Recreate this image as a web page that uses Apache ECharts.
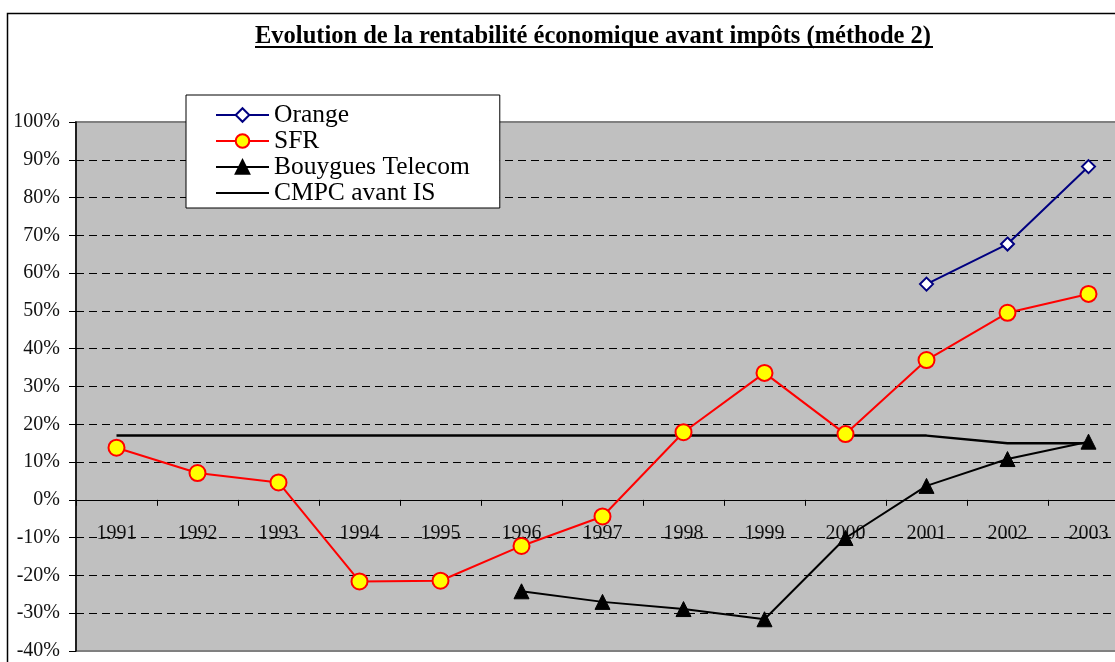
<!DOCTYPE html>
<html><head><meta charset="utf-8">
<script src="https://cdn.jsdelivr.net/npm/echarts@6/dist/echarts.min.js"></script>
<style>html,body{margin:0;padding:0;background:#fff}#c{width:1115px;height:662px}</style>
</head><body><div id="c"></div>
<script>
const categories = ['1991','1992','1993','1994','1995','1996','1997','1998','1999','2000','2001','2002','2003'];
const orange   = [null,null,null,null,null,null,null,null,null,null,57.1,67.7,88.2];
const sfr      = [13.8,7.1,4.6,-21.6,-21.4,-12.2,-4.4,17.9,33.6,17.4,37.0,49.5,54.5];
const bouygues = [null,null,null,null,null,-24.2,-27.0,-28.9,-31.6,-10.1,3.7,10.8,15.4];
const cmpc     = [17,17,17,17,17,17,17,17,17,17,17,15,15];
const yTicks = {min:-40, max:100, interval:10};

const FONT = "'Liberation Serif','DejaVu Serif',serif";
const GRID = {left:76, top:122, width:1053, height:529};
// x axis sits on the 0% line: offset from the grid bottom derived from the y scale
const zeroOffset = -GRID.height * (0 - yTicks.min) / (yTicks.max - yTicks.min);

const chart = echarts.init(document.getElementById('c'), null, {renderer:'canvas'});
chart.setOption({
  animation:false,
  backgroundColor:'#fff',
  title:{
    text:'Evolution de la rentabilité économique avant impôts (méthode 2)',
    left:255, top:24, padding:0,
    textStyle:{fontFamily:FONT, fontWeight:'bold', fontSize:24.5, color:'#000'}
  },
  graphic:[
    {type:'rect', shape:{x:7.5,y:13.5,width:1200,height:800}, style:{fill:'none', stroke:'#000', lineWidth:1.5}, silent:true, z:-1},
    {type:'line', shape:{x1:255,y1:47,x2:933,y2:47}, style:{stroke:'#000', lineWidth:2}, z:10}
  ],
  legend:{
    orient:'vertical', left:186, top:95,
    data:['Orange','SFR','Bouygues Telecom',{name:'CMPC avant IS', itemStyle:{opacity:0}}],
    backgroundColor:'#fff', borderColor:'#000', borderWidth:1,
    padding:[7,30,2,29], itemGap:0, itemWidth:53, itemHeight:17,
    textStyle:{fontFamily:FONT, fontSize:25.5, color:'#000', lineHeight:26},
    z:20
  },
  grid:Object.assign({outerBoundsMode:'none', containLabel:false, show:true, backgroundColor:'#C0C0C0', borderColor:'#808080', borderWidth:2}, GRID),
  xAxis:{
    type:'category', data:categories, boundaryGap:true, position:'bottom', offset:zeroOffset,
    axisLine:{onZero:false, lineStyle:{color:'#000', width:1.2}},
    axisTick:{show:true, length:6, lineStyle:{color:'#000'}},
    axisLabel:{fontFamily:FONT, fontSize:20, color:'#111', margin:24},
    splitLine:{show:false}
  },
  yAxis:{
    type:'value', min:yTicks.min, max:yTicks.max, interval:yTicks.interval,
    axisLine:{show:true, lineStyle:{color:'#000', width:1.5}},
    axisTick:{show:true, length:7, lineStyle:{color:'#000'}},
    axisLabel:{fontFamily:FONT, fontSize:20, color:'#111', margin:16, formatter:'{value}%'},
    splitLine:{show:true, showMinLine:false, showMaxLine:false, lineStyle:{color:'#000', type:[8,5], width:1}}
  },
  series:[
    {name:'CMPC avant IS', type:'line', data:cmpc, symbol:'none', z:2,
     lineStyle:{color:'#000', width:2.5}, itemStyle:{color:'#000'}},
    {name:'Orange', type:'line', data:orange, symbol:'diamond', symbolSize:13, z:3,
     lineStyle:{color:'#000080', width:2}, itemStyle:{color:'#fff', borderColor:'#000080', borderWidth:2}},
    {name:'SFR', type:'line', data:sfr, symbol:'circle', symbolSize:16, z:3,
     lineStyle:{color:'#FF0000', width:2}, itemStyle:{color:'#FFFF00', borderColor:'#FF0000', borderWidth:2}},
    {name:'Bouygues Telecom', type:'line', data:bouygues, symbol:'triangle', symbolSize:15, z:4,
     lineStyle:{color:'#000', width:2}, itemStyle:{color:'#000', borderColor:'#000', borderWidth:1}}
  ]
});
</script></body></html>
